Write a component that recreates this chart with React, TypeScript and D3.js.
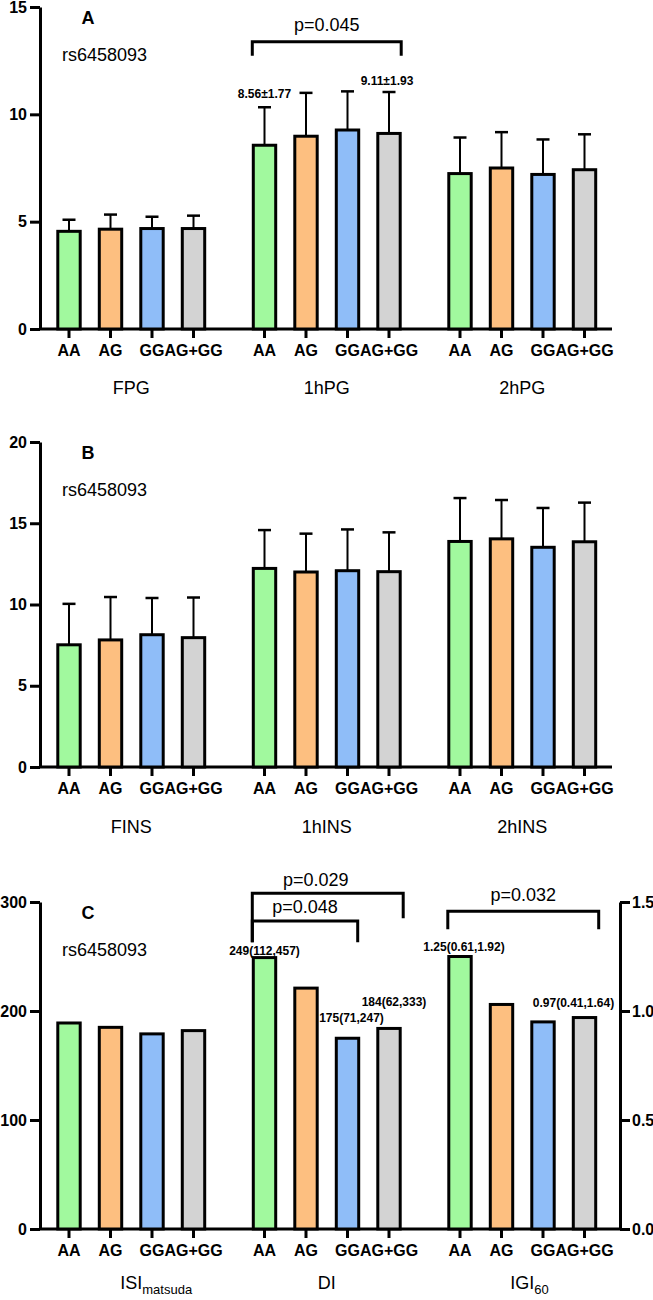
import { useEffect, useRef } from 'react';
import * as d3 from 'd3';

const genotypes = ['AA', 'AG', 'GG', 'AG+GG'];
const barColors = ['#a1f99e', '#fdbf80', '#8fbdf8', '#d3d3d3'];
const snpLabel = 'rs6458093';

// Panel A - glucose
const groupsA = ['FPG', '1hPG', '2hPG'];
const meanA = [
  [4.55, 4.65, 4.68, 4.68],
  [8.56, 8.98, 9.27, 9.11],
  [7.24, 7.5, 7.2, 7.42],
];
const sdA = [
  [0.54, 0.68, 0.55, 0.6],
  [1.77, 2.02, 1.8, 1.93],
  [1.68, 1.67, 1.63, 1.65],
];
const ticksA = [0, 5, 10, 15];

// Panel B - insulin
const groupsB = ['FINS', '1hINS', '2hINS'];
const meanB = [
  [7.52, 7.82, 8.14, 7.96],
  [12.22, 12.0, 12.08, 12.02],
  [13.88, 14.04, 13.52, 13.86],
];
const sdB = [
  [2.52, 2.64, 2.26, 2.47],
  [2.36, 2.36, 2.54, 2.42],
  [2.67, 2.39, 2.42, 2.41],
];
const ticksB = [0, 5, 10, 15, 20];

// Panel C - indices (ISI, DI on left axis, IGI60 on right axis)
const groupsC = ['ISI', 'DI', 'IGI'];
const subsC = ['matsuda', '', '60'];
const isiValues = [189, 185, 179, 182];
const diValues = [249, 221, 175, 184];
const igiValues = [1.25, 1.03, 0.95, 0.97];
const ticksC = [0, 100, 200, 300];
const ticksCRight = [0, 0.5, 1.0, 1.5];

const FONT = '"Liberation Sans", Arial, sans-serif';

export default function App() {
  const svgRef = useRef<SVGSVGElement>(null);

  useEffect(() => {
    if (!svgRef.current) return;
    document.body.style.margin = '0';
    const svg = d3.select(svgRef.current);
    svg.selectAll('*').remove();
    svg.attr('font-family', FONT);

    const axisX = 40;
    const groupX = d3.scaleBand<number>().domain([0, 1, 2]).range([33.5, 620]);
    const inner = d3
      .scaleBand<string>()
      .domain(genotypes)
      .range([14.75, 180.75])
      .paddingInner(0.46)
      .paddingOuter(0.23);
    const bw = inner.bandwidth();
    const barLeft = (g: number, k: string) => (groupX(g) as number) + (inner(k) as number);
    const barCenter = (g: number, k: string) => barLeft(g, k) + bw / 2;
    const groupCenter = (g: number) => (groupX(g) as number) + groupX.bandwidth() / 2;

    const styleAxis = (sel: d3.Selection<SVGGElement, unknown, null, undefined>) => {
      sel.select('.domain').attr('stroke', '#000').attr('stroke-width', 3);
      sel.selectAll('.tick line').attr('stroke', '#000').attr('stroke-width', 3);
      sel
        .selectAll('.tick text')
        .attr('fill', '#000')
        .attr('font-size', 16)
        .attr('font-weight', 'bold')
        .attr('font-family', FONT);
    };

    function drawFrame(
      y: d3.ScaleLinear<number, number>,
      ticks: number[],
      letter: string,
      xEnd: number
    ) {
      const g = svg.append('g');
      const ya = g
        .append('g')
        .attr('transform', `translate(${axisX},0)`)
        .call(d3.axisLeft(y).tickValues(ticks).tickSize(10).tickSizeOuter(0).tickPadding(3));
      styleAxis(ya);

      // x axis baseline + ticks + genotype labels
      const y0 = y(0);
      g.append('line')
        .attr('x1', axisX)
        .attr('x2', xEnd)
        .attr('y1', y0)
        .attr('y2', y0)
        .attr('stroke', '#000')
        .attr('stroke-width', 3);
      [0, 1, 2].forEach((gi) => {
        genotypes.forEach((k) => {
          const cx = barCenter(gi, k);
          g.append('line')
            .attr('x1', cx)
            .attr('x2', cx)
            .attr('y1', y0)
            .attr('y2', y0 + 9)
            .attr('stroke', '#000')
            .attr('stroke-width', 3);
          g.append('text')
            .attr('x', cx)
            .attr('y', y0 + 27)
            .attr('text-anchor', 'middle')
            .attr('font-size', 16)
            .attr('font-weight', 'bold')
            .text(k);
        });
      });

      const top = y(ticks[ticks.length - 1]);
      g.append('text')
        .attr('x', 88)
        .attr('y', top + 17)
        .attr('text-anchor', 'middle')
        .attr('font-size', 18)
        .attr('font-weight', 'bold')
        .text(letter);
      g.append('text')
        .attr('x', 62)
        .attr('y', top + 54)
        .attr('font-size', 18)
        .text(snpLabel);
      return g;
    }

    function drawBars(
      g: d3.Selection<SVGGElement, unknown, null, undefined>,
      y: d3.ScaleLinear<number, number>,
      gi: number,
      values: number[],
      sds?: number[]
    ) {
      genotypes.forEach((k, i) => {
        const cx = barCenter(gi, k);
        if (sds) {
          g.append('line')
            .attr('x1', cx)
            .attr('x2', cx)
            .attr('y1', y(values[i]))
            .attr('y2', y(values[i] + sds[i]))
            .attr('stroke', '#000')
            .attr('stroke-width', 2);
          g.append('line')
            .attr('x1', cx - 6.5)
            .attr('x2', cx + 6.5)
            .attr('y1', y(values[i] + sds[i]))
            .attr('y2', y(values[i] + sds[i]))
            .attr('stroke', '#000')
            .attr('stroke-width', 2.5);
        }
        g.append('rect')
          .attr('x', barLeft(gi, k))
          .attr('width', bw)
          .attr('y', y(values[i]))
          .attr('height', y(0) - y(values[i]))
          .attr('fill', barColors[i])
          .attr('stroke', '#000')
          .attr('stroke-width', 3);
      });
    }

    function groupLabel(gi: number, yPos: number, base: string, sub = '') {
      const t = svg
        .append('text')
        .attr('x', groupCenter(gi))
        .attr('y', yPos)
        .attr('text-anchor', 'middle')
        .attr('font-size', 18)
        .text(base);
      if (sub) {
        const w = (t.node() as SVGTextElement).getComputedTextLength();
        svg
          .append('text')
          .attr('x', groupCenter(gi) + w / 2)
          .attr('y', yPos + 5)
          .attr('font-size', 13)
          .text(sub);
      }
    }

    function bracket(
      x1: number,
      x2: number,
      yTop: number,
      yLeft: number,
      yRight: number,
      label: string,
      textY: number,
      dx = 0
    ) {
      svg
        .append('path')
        .attr('d', `M${x1},${yLeft}V${yTop}H${x2}V${yRight}`)
        .attr('fill', 'none')
        .attr('stroke', '#000')
        .attr('stroke-width', 3);
      if (label) {
        svg
          .append('text')
          .attr('x', (x1 + x2) / 2 + dx)
          .attr('y', textY)
          .attr('text-anchor', 'middle')
          .attr('font-size', 18)
          .text(label);
      }
    }

    function valueLabel(x: number, yPos: number, text: string) {
      svg
        .append('text')
        .attr('x', x)
        .attr('y', yPos)
        .attr('text-anchor', 'middle')
        .attr('font-size', 12)
        .attr('font-weight', 'bold')
        .text(text);
    }

    const last = genotypes[genotypes.length - 1];

    // ---------- Panel A ----------
    const yA = d3.scaleLinear().domain([0, 15]).range([329, 7]);
    const gA = drawFrame(yA, ticksA, 'A', 612);
    groupsA.forEach((name, gi) => {
      drawBars(gA, yA, gi, meanA[gi], sdA[gi]);
      groupLabel(gi, yA(0) + 65, name);
    });
    bracket(
      barLeft(1, 'AA') - 1,
      barLeft(1, last) + bw + 1,
      yA(13.38),
      yA(12.73),
      yA(12.73),
      'p=0.045',
      yA(13.9)
    );
    valueLabel(barCenter(1, 'AA'), yA(meanA[1][0] + sdA[1][0]) - 9, `${meanA[1][0]}±${sdA[1][0]}`);
    valueLabel(barCenter(1, last) - 2, yA(meanA[1][3] + sdA[1][3]) - 7, `${meanA[1][3]}±${sdA[1][3]}`);

    // ---------- Panel B ----------
    const yB = d3.scaleLinear().domain([0, 20]).range([767, 442]);
    const gB = drawFrame(yB, ticksB, 'B', 612);
    groupsB.forEach((name, gi) => {
      drawBars(gB, yB, gi, meanB[gi], sdB[gi]);
      groupLabel(gi, yB(0) + 66, name);
    });

    // ---------- Panel C ----------
    const yC = d3.scaleLinear().domain([0, 300]).range([1229, 902]);
    const yCR = d3.scaleLinear().domain([0, 1.5]).range([1229, 902]);
    const gC = drawFrame(yC, ticksC, 'C', 620);
    const ra = gC
      .append('g')
      .attr('transform', 'translate(620,0)')
      .call(
        d3
          .axisRight(yCR)
          .tickValues(ticksCRight)
          .tickFormat(d3.format('.1f'))
          .tickSize(10)
          .tickSizeOuter(0)
          .tickPadding(2)
      );
    styleAxis(ra);

    drawBars(gC, yC, 0, isiValues);
    drawBars(gC, yC, 1, diValues);
    drawBars(gC, yCR, 2, igiValues);
    groupsC.forEach((name, gi) => groupLabel(gi, yC(0) + 60, name, subsC[gi]));

    const diL = barLeft(1, 'AA') - 1;
    bracket(diL, barLeft(1, last) + bw + 3, yC(308), yC(263), yC(285), 'p=0.029', yC(315), -12);
    bracket(diL, barLeft(1, 'GG') + bw - 1, yC(282.5), yC(263), yC(263), 'p=0.048', yC(290), 0);
    bracket(
      barLeft(2, 'AA') - 1,
      barLeft(2, last) + bw + 3,
      yCR(1.458),
      yCR(1.375),
      yCR(1.375),
      'p=0.032',
      yCR(1.505)
    );

    valueLabel(barCenter(1, 'AA'), yC(diValues[0]) - 3, '249(112,457)');
    valueLabel(barCenter(1, 'GG') + 4, yC(diValues[2]) - 16, '175(71,247)');
    valueLabel(barCenter(1, last) + 5, yC(diValues[3]) - 22, '184(62,333)');
    valueLabel(barCenter(2, 'AA') + 4, yCR(igiValues[0]) - 6, '1.25(0.61,1.92)');
    valueLabel(barCenter(2, last) - 11, yCR(igiValues[3]) - 11, '0.97(0.41,1.64)');
  }, []);

  return (
    <svg
      ref={svgRef}
      width={653}
      height={1300}
      style={{ display: 'block', background: '#fff' }}
    />
  );
}
